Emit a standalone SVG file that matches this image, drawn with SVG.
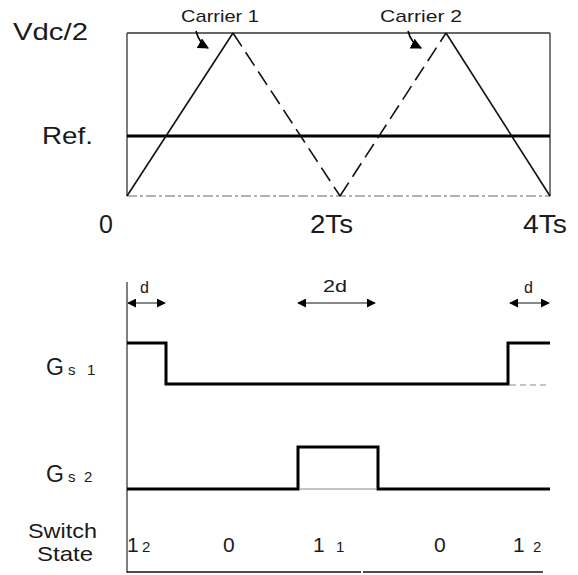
<svg xmlns="http://www.w3.org/2000/svg" width="578" height="575" viewBox="0 0 578 575">
<style>
text{font-family:"Liberation Sans",Arial,sans-serif;fill:#1a1a1a}
.frame{stroke:#333;stroke-width:1.3;fill:none}
.thin{stroke:#111;stroke-width:1.6;fill:none}
.dash{stroke:#111;stroke-width:1.6;fill:none;stroke-dasharray:16 7}
.thick{stroke:#000;stroke-width:3;fill:none}
.faint{stroke:#888;stroke-width:1;fill:none;stroke-dasharray:6 4}
.dim{stroke:#111;stroke-width:1.2;fill:none;marker-start:url(#ah);marker-end:url(#ah)}
.lbl{font-size:24px}
.sw{font-size:21px}
.ax{font-size:25px}
.car{font-size:17px}
.sm{font-size:16px}
.g{font-size:23px}
.st{font-size:21px}
.sub{font-size:15px}
</style>
<defs>
<marker id="ah" viewBox="0 0 10 10" refX="9" refY="5" markerWidth="9" markerHeight="9" markerUnits="userSpaceOnUse" orient="auto-start-reverse">
<path d="M0,0 L10,5 L0,10 Z" fill="#000"/>
</marker>
<marker id="ah2" viewBox="0 0 10 10" refX="9" refY="5" markerWidth="11" markerHeight="11" markerUnits="userSpaceOnUse" orient="auto">
<path d="M0,0 L10,5 L0,10 Z" fill="#000"/>
</marker>
</defs>

<g id="carrier-plot">
<line class="frame" x1="127" y1="33" x2="550" y2="33"/>
<line class="frame" x1="127" y1="33" x2="127" y2="196"/>
<line class="frame" x1="550" y1="33" x2="550" y2="196"/>
<line x1="127" y1="196" x2="550" y2="196" stroke="#666" stroke-width="1.2" stroke-dasharray="10 3 3 3"/>
<line class="thick" x1="127" y1="136" x2="550" y2="136"/>
</g>

<g id="carrier1">
<line class="thin" x1="127" y1="196" x2="233" y2="33"/>
<line class="dash" x1="233" y1="33" x2="340" y2="196"/>
</g>
<g id="carrier2">
<line class="dash" x1="340" y1="196" x2="446" y2="33"/>
<line class="thin" x1="446" y1="33" x2="550" y2="196"/>
</g>

<g id="labels-top">
<text class="lbl" x="13" y="40" textLength="75" lengthAdjust="spacingAndGlyphs">Vdc/2</text>
<text class="lbl" x="42" y="144" textLength="51" lengthAdjust="spacingAndGlyphs">Ref.</text>
<text class="ax" x="99" y="233">0</text>
<text class="ax" x="310" y="233" textLength="43" lengthAdjust="spacingAndGlyphs">2Ts</text>
<text class="ax" x="523" y="233" textLength="44" lengthAdjust="spacingAndGlyphs">4Ts</text>
<text class="car" x="181" y="22" textLength="78" lengthAdjust="spacingAndGlyphs">Carrier 1</text>
<text class="car" x="380" y="22" textLength="82" lengthAdjust="spacingAndGlyphs">Carrier 2</text>
</g>

<g id="connectors">
<path d="M196,31 Q199,43 208,48" stroke="#000" stroke-width="1.6" fill="none" marker-end="url(#ah2)"/>
<path d="M408,31 Q411,43 421,48" stroke="#000" stroke-width="1.6" fill="none" marker-end="url(#ah2)"/>
<line class="dim" x1="128" y1="303" x2="165" y2="303"/>
<line class="dim" x1="298" y1="303" x2="375" y2="303"/>
<line class="dim" x1="510" y1="303" x2="549" y2="303"/>
</g>

<g id="gate-plot">
<line x1="127" y1="282" x2="127" y2="573" stroke="#555" stroke-width="1.5"/>
<line x1="127" y1="572" x2="361" y2="572" stroke="#111" stroke-width="1.3"/>
<line x1="363" y1="572" x2="543" y2="572" stroke="#111" stroke-width="1.3"/>
<line class="faint" x1="510" y1="385" x2="548" y2="385"/>
<line x1="300" y1="489" x2="376" y2="489" stroke="#888" stroke-width="1"/>
</g>

<g id="gs1">
<path class="thick" d="M127,343 H166 V384 H508 V343 H550"/>
<text class="g" x="46" y="375">G</text>
<text class="sub" x="68" y="375">s</text>
<text class="sub" x="87" y="375">1</text>
</g>

<g id="gs2">
<path class="thick" d="M127,489 H298 V447 H378 V489 H550"/>
<text class="g" x="46" y="482">G</text>
<text class="sub" x="68" y="482">s</text>
<text class="sub" x="84" y="482">2</text>
</g>

<g id="dim-labels">
<text class="sm" x="140" y="293">d</text>
<text class="sm" x="323" y="292" textLength="24" lengthAdjust="spacingAndGlyphs">2d</text>
<text class="sm" x="524" y="293">d</text>
</g>

<g id="switch-state">
<text class="sw" x="28" y="538" textLength="69" lengthAdjust="spacingAndGlyphs">Switch</text>
<text class="sw" x="37" y="561" textLength="56" lengthAdjust="spacingAndGlyphs">State</text>
<text class="st" x="127" y="552">1</text>
<text class="sub" x="142" y="552">2</text>
<text class="st" x="223" y="552">0</text>
<text class="st" x="313" y="552">1</text>
<text class="sub" x="336" y="552">1</text>
<text class="st" x="434" y="552">0</text>
<text class="st" x="513" y="552">1</text>
<text class="sub" x="533" y="552">2</text>
</g>
</svg>
